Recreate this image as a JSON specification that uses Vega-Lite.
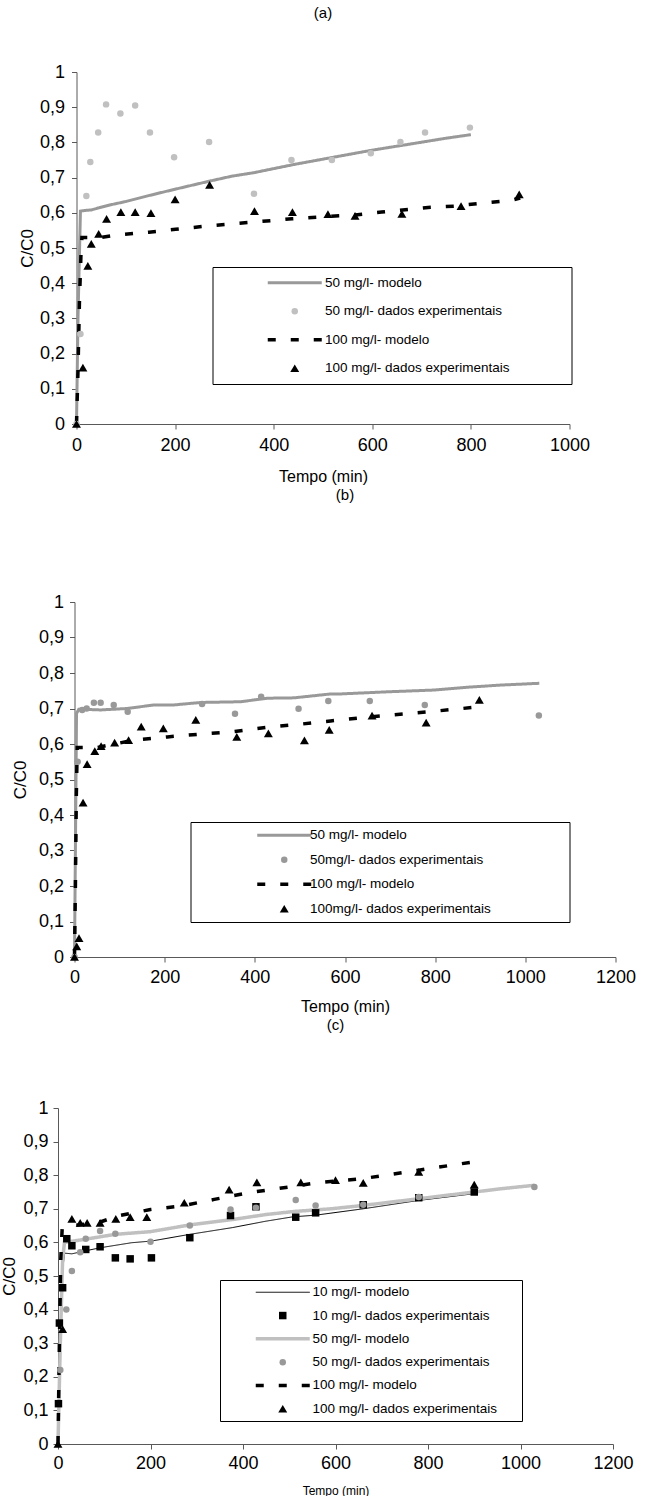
{
  "$schema": "https://vega.github.io/schema/vega-lite/v6.json",
  "background": "#ffffff",
  "padding": {"left": 0, "top": 6, "right": 0, "bottom": 0},
  "config": {
    "view": {"stroke": null},
    "font": "Liberation Sans",
    "axis": {"grid": false, "domainColor": "#595959", "tickColor": "#595959", "domainWidth": 1, "tickWidth": 1, "tickSize": 5, "labelColor": "#000000", "titleColor": "#000000", "labelFont": "Liberation Sans", "titleFont": "Liberation Sans", "titleFontWeight": "normal", "labelFlush": false, "labelOverlap": false, "labelBound": false},
    "title": {"font": "Liberation Sans", "fontWeight": "normal", "color": "#000000", "anchor": "middle"},
    "legend": {"labelFont": "Liberation Sans", "labelColor": "#000000", "labelFontSize": 13.5, "labelLimit": 600, "strokeColor": "#000000", "fillColor": "#ffffff", "orient": "none"}
  },
  "datasets": {
    "a": [
      {"series": "50 mg/l- modelo", "kind": "modelo", "t": 0, "v": 0},
      {"series": "50 mg/l- modelo", "kind": "modelo", "t": 3, "v": 0.3},
      {"series": "50 mg/l- modelo", "kind": "modelo", "t": 8, "v": 0.605},
      {"series": "50 mg/l- modelo", "kind": "modelo", "t": 20, "v": 0.607},
      {"series": "50 mg/l- modelo", "kind": "modelo", "t": 30, "v": 0.608},
      {"series": "50 mg/l- modelo", "kind": "modelo", "t": 45, "v": 0.614},
      {"series": "50 mg/l- modelo", "kind": "modelo", "t": 70, "v": 0.623},
      {"series": "50 mg/l- modelo", "kind": "modelo", "t": 100, "v": 0.632},
      {"series": "50 mg/l- modelo", "kind": "modelo", "t": 150, "v": 0.65},
      {"series": "50 mg/l- modelo", "kind": "modelo", "t": 200, "v": 0.667},
      {"series": "50 mg/l- modelo", "kind": "modelo", "t": 270, "v": 0.69},
      {"series": "50 mg/l- modelo", "kind": "modelo", "t": 315, "v": 0.704},
      {"series": "50 mg/l- modelo", "kind": "modelo", "t": 360, "v": 0.714},
      {"series": "50 mg/l- modelo", "kind": "modelo", "t": 440, "v": 0.737},
      {"series": "50 mg/l- modelo", "kind": "modelo", "t": 510, "v": 0.755},
      {"series": "50 mg/l- modelo", "kind": "modelo", "t": 600, "v": 0.778},
      {"series": "50 mg/l- modelo", "kind": "modelo", "t": 680, "v": 0.796},
      {"series": "50 mg/l- modelo", "kind": "modelo", "t": 750, "v": 0.812},
      {"series": "50 mg/l- modelo", "kind": "modelo", "t": 800, "v": 0.822},
      {"series": "50 mg/l- dados experimentais", "kind": "dados", "t": 0, "v": 0},
      {"series": "50 mg/l- dados experimentais", "kind": "dados", "t": 8, "v": 0.256},
      {"series": "50 mg/l- dados experimentais", "kind": "dados", "t": 20, "v": 0.648},
      {"series": "50 mg/l- dados experimentais", "kind": "dados", "t": 28, "v": 0.744},
      {"series": "50 mg/l- dados experimentais", "kind": "dados", "t": 44, "v": 0.828},
      {"series": "50 mg/l- dados experimentais", "kind": "dados", "t": 60, "v": 0.908},
      {"series": "50 mg/l- dados experimentais", "kind": "dados", "t": 89, "v": 0.882},
      {"series": "50 mg/l- dados experimentais", "kind": "dados", "t": 119, "v": 0.905},
      {"series": "50 mg/l- dados experimentais", "kind": "dados", "t": 149, "v": 0.828},
      {"series": "50 mg/l- dados experimentais", "kind": "dados", "t": 198, "v": 0.758},
      {"series": "50 mg/l- dados experimentais", "kind": "dados", "t": 269, "v": 0.801},
      {"series": "50 mg/l- dados experimentais", "kind": "dados", "t": 360, "v": 0.654},
      {"series": "50 mg/l- dados experimentais", "kind": "dados", "t": 436, "v": 0.75},
      {"series": "50 mg/l- dados experimentais", "kind": "dados", "t": 518, "v": 0.75},
      {"series": "50 mg/l- dados experimentais", "kind": "dados", "t": 597, "v": 0.769},
      {"series": "50 mg/l- dados experimentais", "kind": "dados", "t": 657, "v": 0.801},
      {"series": "50 mg/l- dados experimentais", "kind": "dados", "t": 707, "v": 0.828},
      {"series": "50 mg/l- dados experimentais", "kind": "dados", "t": 798, "v": 0.842},
      {"series": "100 mg/l- modelo", "kind": "modelo", "t": 0, "v": 0},
      {"series": "100 mg/l- modelo", "kind": "modelo", "t": 3, "v": 0.15},
      {"series": "100 mg/l- modelo", "kind": "modelo", "t": 6, "v": 0.35},
      {"series": "100 mg/l- modelo", "kind": "modelo", "t": 9, "v": 0.48},
      {"series": "100 mg/l- modelo", "kind": "modelo", "t": 11, "v": 0.53},
      {"series": "100 mg/l- modelo", "kind": "modelo", "t": 50, "v": 0.53},
      {"series": "100 mg/l- modelo", "kind": "modelo", "t": 80, "v": 0.537},
      {"series": "100 mg/l- modelo", "kind": "modelo", "t": 147, "v": 0.545},
      {"series": "100 mg/l- modelo", "kind": "modelo", "t": 201, "v": 0.553},
      {"series": "100 mg/l- modelo", "kind": "modelo", "t": 269, "v": 0.563},
      {"series": "100 mg/l- modelo", "kind": "modelo", "t": 363, "v": 0.574},
      {"series": "100 mg/l- modelo", "kind": "modelo", "t": 437, "v": 0.583},
      {"series": "100 mg/l- modelo", "kind": "modelo", "t": 511, "v": 0.59},
      {"series": "100 mg/l- modelo", "kind": "modelo", "t": 565, "v": 0.594},
      {"series": "100 mg/l- modelo", "kind": "modelo", "t": 619, "v": 0.602},
      {"series": "100 mg/l- modelo", "kind": "modelo", "t": 713, "v": 0.615},
      {"series": "100 mg/l- modelo", "kind": "modelo", "t": 767, "v": 0.619},
      {"series": "100 mg/l- modelo", "kind": "modelo", "t": 834, "v": 0.629},
      {"series": "100 mg/l- modelo", "kind": "modelo", "t": 881, "v": 0.635},
      {"series": "100 mg/l- modelo", "kind": "modelo", "t": 900, "v": 0.642},
      {"series": "100 mg/l- dados experimentais", "kind": "dados", "t": 0, "v": 0},
      {"series": "100 mg/l- dados experimentais", "kind": "dados", "t": 13, "v": 0.16},
      {"series": "100 mg/l- dados experimentais", "kind": "dados", "t": 23, "v": 0.449},
      {"series": "100 mg/l- dados experimentais", "kind": "dados", "t": 30, "v": 0.512},
      {"series": "100 mg/l- dados experimentais", "kind": "dados", "t": 45, "v": 0.54},
      {"series": "100 mg/l- dados experimentais", "kind": "dados", "t": 61, "v": 0.583},
      {"series": "100 mg/l- dados experimentais", "kind": "dados", "t": 90, "v": 0.602},
      {"series": "100 mg/l- dados experimentais", "kind": "dados", "t": 119, "v": 0.602},
      {"series": "100 mg/l- dados experimentais", "kind": "dados", "t": 151, "v": 0.599},
      {"series": "100 mg/l- dados experimentais", "kind": "dados", "t": 200, "v": 0.638},
      {"series": "100 mg/l- dados experimentais", "kind": "dados", "t": 270, "v": 0.679},
      {"series": "100 mg/l- dados experimentais", "kind": "dados", "t": 361, "v": 0.605},
      {"series": "100 mg/l- dados experimentais", "kind": "dados", "t": 438, "v": 0.602},
      {"series": "100 mg/l- dados experimentais", "kind": "dados", "t": 510, "v": 0.596},
      {"series": "100 mg/l- dados experimentais", "kind": "dados", "t": 565, "v": 0.591},
      {"series": "100 mg/l- dados experimentais", "kind": "dados", "t": 660, "v": 0.597},
      {"series": "100 mg/l- dados experimentais", "kind": "dados", "t": 780, "v": 0.619},
      {"series": "100 mg/l- dados experimentais", "kind": "dados", "t": 898, "v": 0.652}
    ],
    "b": [
      {"series": "50 mg/l- modelo", "kind": "modelo", "t": 0, "v": 0},
      {"series": "50 mg/l- modelo", "kind": "modelo", "t": 2, "v": 0.3},
      {"series": "50 mg/l- modelo", "kind": "modelo", "t": 4.5, "v": 0.686},
      {"series": "50 mg/l- modelo", "kind": "modelo", "t": 9.6, "v": 0.698},
      {"series": "50 mg/l- modelo", "kind": "modelo", "t": 58, "v": 0.696},
      {"series": "50 mg/l- modelo", "kind": "modelo", "t": 117, "v": 0.7},
      {"series": "50 mg/l- modelo", "kind": "modelo", "t": 176, "v": 0.71},
      {"series": "50 mg/l- modelo", "kind": "modelo", "t": 220, "v": 0.71},
      {"series": "50 mg/l- modelo", "kind": "modelo", "t": 280, "v": 0.717},
      {"series": "50 mg/l- modelo", "kind": "modelo", "t": 368, "v": 0.719},
      {"series": "50 mg/l- modelo", "kind": "modelo", "t": 428, "v": 0.729},
      {"series": "50 mg/l- modelo", "kind": "modelo", "t": 487, "v": 0.73},
      {"series": "50 mg/l- modelo", "kind": "modelo", "t": 568, "v": 0.741},
      {"series": "50 mg/l- modelo", "kind": "modelo", "t": 590, "v": 0.741},
      {"series": "50 mg/l- modelo", "kind": "modelo", "t": 694, "v": 0.747},
      {"series": "50 mg/l- modelo", "kind": "modelo", "t": 798, "v": 0.752},
      {"series": "50 mg/l- modelo", "kind": "modelo", "t": 872, "v": 0.76},
      {"series": "50 mg/l- modelo", "kind": "modelo", "t": 946, "v": 0.766},
      {"series": "50 mg/l- modelo", "kind": "modelo", "t": 1031, "v": 0.771},
      {"series": "50mg/l- dados experimentais", "kind": "dados", "t": 0, "v": 0},
      {"series": "50mg/l- dados experimentais", "kind": "dados", "t": 7, "v": 0.55},
      {"series": "50mg/l- dados experimentais", "kind": "dados", "t": 17, "v": 0.696},
      {"series": "50mg/l- dados experimentais", "kind": "dados", "t": 27, "v": 0.7},
      {"series": "50mg/l- dados experimentais", "kind": "dados", "t": 43, "v": 0.716},
      {"series": "50mg/l- dados experimentais", "kind": "dados", "t": 58, "v": 0.716},
      {"series": "50mg/l- dados experimentais", "kind": "dados", "t": 87, "v": 0.71},
      {"series": "50mg/l- dados experimentais", "kind": "dados", "t": 118, "v": 0.691},
      {"series": "50mg/l- dados experimentais", "kind": "dados", "t": 283, "v": 0.713},
      {"series": "50mg/l- dados experimentais", "kind": "dados", "t": 356, "v": 0.685},
      {"series": "50mg/l- dados experimentais", "kind": "dados", "t": 414, "v": 0.733},
      {"series": "50mg/l- dados experimentais", "kind": "dados", "t": 497, "v": 0.699},
      {"series": "50mg/l- dados experimentais", "kind": "dados", "t": 563, "v": 0.721},
      {"series": "50mg/l- dados experimentais", "kind": "dados", "t": 655, "v": 0.721},
      {"series": "50mg/l- dados experimentais", "kind": "dados", "t": 777, "v": 0.71},
      {"series": "50mg/l- dados experimentais", "kind": "dados", "t": 1030, "v": 0.68},
      {"series": "100 mg/l- modelo", "kind": "modelo", "t": 0, "v": 0},
      {"series": "100 mg/l- modelo", "kind": "modelo", "t": 2, "v": 0.2},
      {"series": "100 mg/l- modelo", "kind": "modelo", "t": 4, "v": 0.45},
      {"series": "100 mg/l- modelo", "kind": "modelo", "t": 6, "v": 0.59},
      {"series": "100 mg/l- modelo", "kind": "modelo", "t": 50, "v": 0.59},
      {"series": "100 mg/l- modelo", "kind": "modelo", "t": 89, "v": 0.6},
      {"series": "100 mg/l- modelo", "kind": "modelo", "t": 132, "v": 0.611},
      {"series": "100 mg/l- modelo", "kind": "modelo", "t": 206, "v": 0.62},
      {"series": "100 mg/l- modelo", "kind": "modelo", "t": 280, "v": 0.628},
      {"series": "100 mg/l- modelo", "kind": "modelo", "t": 354, "v": 0.635},
      {"series": "100 mg/l- modelo", "kind": "modelo", "t": 428, "v": 0.647},
      {"series": "100 mg/l- modelo", "kind": "modelo", "t": 502, "v": 0.656},
      {"series": "100 mg/l- modelo", "kind": "modelo", "t": 568, "v": 0.665},
      {"series": "100 mg/l- modelo", "kind": "modelo", "t": 660, "v": 0.677},
      {"series": "100 mg/l- modelo", "kind": "modelo", "t": 780, "v": 0.69},
      {"series": "100 mg/l- modelo", "kind": "modelo", "t": 900, "v": 0.705},
      {"series": "100mg/l- dados experimentais", "kind": "dados", "t": 0, "v": 0},
      {"series": "100mg/l- dados experimentais", "kind": "dados", "t": 5, "v": 0.03},
      {"series": "100mg/l- dados experimentais", "kind": "dados", "t": 10, "v": 0.053},
      {"series": "100mg/l- dados experimentais", "kind": "dados", "t": 19, "v": 0.435},
      {"series": "100mg/l- dados experimentais", "kind": "dados", "t": 28, "v": 0.543},
      {"series": "100mg/l- dados experimentais", "kind": "dados", "t": 45, "v": 0.58},
      {"series": "100mg/l- dados experimentais", "kind": "dados", "t": 59, "v": 0.594},
      {"series": "100mg/l- dados experimentais", "kind": "dados", "t": 89, "v": 0.604},
      {"series": "100mg/l- dados experimentais", "kind": "dados", "t": 120, "v": 0.611},
      {"series": "100mg/l- dados experimentais", "kind": "dados", "t": 148, "v": 0.649},
      {"series": "100mg/l- dados experimentais", "kind": "dados", "t": 197, "v": 0.644},
      {"series": "100mg/l- dados experimentais", "kind": "dados", "t": 269, "v": 0.668},
      {"series": "100mg/l- dados experimentais", "kind": "dados", "t": 360, "v": 0.62},
      {"series": "100mg/l- dados experimentais", "kind": "dados", "t": 430, "v": 0.63},
      {"series": "100mg/l- dados experimentais", "kind": "dados", "t": 510, "v": 0.61},
      {"series": "100mg/l- dados experimentais", "kind": "dados", "t": 565, "v": 0.64},
      {"series": "100mg/l- dados experimentais", "kind": "dados", "t": 660, "v": 0.68},
      {"series": "100mg/l- dados experimentais", "kind": "dados", "t": 780, "v": 0.66},
      {"series": "100mg/l- dados experimentais", "kind": "dados", "t": 898, "v": 0.724}
    ],
    "c": [
      {"series": "10 mg/l- modelo", "kind": "modelo", "t": 0, "v": 0},
      {"series": "10 mg/l- modelo", "kind": "modelo", "t": 4, "v": 0.3},
      {"series": "10 mg/l- modelo", "kind": "modelo", "t": 9, "v": 0.5},
      {"series": "10 mg/l- modelo", "kind": "modelo", "t": 14, "v": 0.568},
      {"series": "10 mg/l- modelo", "kind": "modelo", "t": 30, "v": 0.566},
      {"series": "10 mg/l- modelo", "kind": "modelo", "t": 60, "v": 0.575},
      {"series": "10 mg/l- modelo", "kind": "modelo", "t": 91, "v": 0.584},
      {"series": "10 mg/l- modelo", "kind": "modelo", "t": 159, "v": 0.599},
      {"series": "10 mg/l- modelo", "kind": "modelo", "t": 202, "v": 0.604},
      {"series": "10 mg/l- modelo", "kind": "modelo", "t": 285, "v": 0.624},
      {"series": "10 mg/l- modelo", "kind": "modelo", "t": 377, "v": 0.644},
      {"series": "10 mg/l- modelo", "kind": "modelo", "t": 449, "v": 0.663},
      {"series": "10 mg/l- modelo", "kind": "modelo", "t": 507, "v": 0.676},
      {"series": "10 mg/l- modelo", "kind": "modelo", "t": 557, "v": 0.681},
      {"series": "10 mg/l- modelo", "kind": "modelo", "t": 660, "v": 0.7},
      {"series": "10 mg/l- modelo", "kind": "modelo", "t": 780, "v": 0.725},
      {"series": "10 mg/l- modelo", "kind": "modelo", "t": 900, "v": 0.745},
      {"series": "10 mg/l- dados experimentais", "kind": "dados", "t": 1, "v": 0.12},
      {"series": "10 mg/l- dados experimentais", "kind": "dados", "t": 3, "v": 0.36},
      {"series": "10 mg/l- dados experimentais", "kind": "dados", "t": 10, "v": 0.465},
      {"series": "10 mg/l- dados experimentais", "kind": "dados", "t": 19, "v": 0.611},
      {"series": "10 mg/l- dados experimentais", "kind": "dados", "t": 30, "v": 0.59},
      {"series": "10 mg/l- dados experimentais", "kind": "dados", "t": 60, "v": 0.579},
      {"series": "10 mg/l- dados experimentais", "kind": "dados", "t": 91, "v": 0.587},
      {"series": "10 mg/l- dados experimentais", "kind": "dados", "t": 124, "v": 0.554},
      {"series": "10 mg/l- dados experimentais", "kind": "dados", "t": 156, "v": 0.551},
      {"series": "10 mg/l- dados experimentais", "kind": "dados", "t": 202, "v": 0.554},
      {"series": "10 mg/l- dados experimentais", "kind": "dados", "t": 285, "v": 0.614},
      {"series": "10 mg/l- dados experimentais", "kind": "dados", "t": 373, "v": 0.68},
      {"series": "10 mg/l- dados experimentais", "kind": "dados", "t": 428, "v": 0.706},
      {"series": "10 mg/l- dados experimentais", "kind": "dados", "t": 514, "v": 0.675},
      {"series": "10 mg/l- dados experimentais", "kind": "dados", "t": 557, "v": 0.688},
      {"series": "10 mg/l- dados experimentais", "kind": "dados", "t": 660, "v": 0.712},
      {"series": "10 mg/l- dados experimentais", "kind": "dados", "t": 780, "v": 0.733},
      {"series": "10 mg/l- dados experimentais", "kind": "dados", "t": 900, "v": 0.75},
      {"series": "50 mg/l- modelo", "kind": "modelo", "t": 0, "v": 0},
      {"series": "50 mg/l- modelo", "kind": "modelo", "t": 5, "v": 0.3},
      {"series": "50 mg/l- modelo", "kind": "modelo", "t": 10, "v": 0.55},
      {"series": "50 mg/l- modelo", "kind": "modelo", "t": 14, "v": 0.6},
      {"series": "50 mg/l- modelo", "kind": "modelo", "t": 57, "v": 0.609},
      {"series": "50 mg/l- modelo", "kind": "modelo", "t": 124, "v": 0.624},
      {"series": "50 mg/l- modelo", "kind": "modelo", "t": 200, "v": 0.632},
      {"series": "50 mg/l- modelo", "kind": "modelo", "t": 285, "v": 0.652},
      {"series": "50 mg/l- modelo", "kind": "modelo", "t": 377, "v": 0.668},
      {"series": "50 mg/l- modelo", "kind": "modelo", "t": 450, "v": 0.683},
      {"series": "50 mg/l- modelo", "kind": "modelo", "t": 510, "v": 0.692},
      {"series": "50 mg/l- modelo", "kind": "modelo", "t": 590, "v": 0.7},
      {"series": "50 mg/l- modelo", "kind": "modelo", "t": 660, "v": 0.71},
      {"series": "50 mg/l- modelo", "kind": "modelo", "t": 780, "v": 0.73},
      {"series": "50 mg/l- modelo", "kind": "modelo", "t": 900, "v": 0.75},
      {"series": "50 mg/l- modelo", "kind": "modelo", "t": 960, "v": 0.76},
      {"series": "50 mg/l- modelo", "kind": "modelo", "t": 1030, "v": 0.77},
      {"series": "50 mg/l- dados experimentais", "kind": "dados", "t": 5, "v": 0.22},
      {"series": "50 mg/l- dados experimentais", "kind": "dados", "t": 18, "v": 0.4},
      {"series": "50 mg/l- dados experimentais", "kind": "dados", "t": 30, "v": 0.515},
      {"series": "50 mg/l- dados experimentais", "kind": "dados", "t": 48, "v": 0.571},
      {"series": "50 mg/l- dados experimentais", "kind": "dados", "t": 60, "v": 0.611},
      {"series": "50 mg/l- dados experimentais", "kind": "dados", "t": 91, "v": 0.634},
      {"series": "50 mg/l- dados experimentais", "kind": "dados", "t": 124, "v": 0.626},
      {"series": "50 mg/l- dados experimentais", "kind": "dados", "t": 200, "v": 0.602},
      {"series": "50 mg/l- dados experimentais", "kind": "dados", "t": 285, "v": 0.65},
      {"series": "50 mg/l- dados experimentais", "kind": "dados", "t": 373, "v": 0.698},
      {"series": "50 mg/l- dados experimentais", "kind": "dados", "t": 428, "v": 0.703},
      {"series": "50 mg/l- dados experimentais", "kind": "dados", "t": 514, "v": 0.726},
      {"series": "50 mg/l- dados experimentais", "kind": "dados", "t": 557, "v": 0.71},
      {"series": "50 mg/l- dados experimentais", "kind": "dados", "t": 660, "v": 0.712},
      {"series": "50 mg/l- dados experimentais", "kind": "dados", "t": 780, "v": 0.735},
      {"series": "50 mg/l- dados experimentais", "kind": "dados", "t": 1030, "v": 0.765},
      {"series": "100 mg/l- modelo", "kind": "modelo", "t": 0, "v": 0},
      {"series": "100 mg/l- modelo", "kind": "modelo", "t": 3, "v": 0.3},
      {"series": "100 mg/l- modelo", "kind": "modelo", "t": 6, "v": 0.55},
      {"series": "100 mg/l- modelo", "kind": "modelo", "t": 9, "v": 0.64},
      {"series": "100 mg/l- modelo", "kind": "modelo", "t": 20, "v": 0.648},
      {"series": "100 mg/l- modelo", "kind": "modelo", "t": 50, "v": 0.653},
      {"series": "100 mg/l- modelo", "kind": "modelo", "t": 90, "v": 0.66},
      {"series": "100 mg/l- modelo", "kind": "modelo", "t": 127, "v": 0.678},
      {"series": "100 mg/l- modelo", "kind": "modelo", "t": 200, "v": 0.698},
      {"series": "100 mg/l- modelo", "kind": "modelo", "t": 266, "v": 0.708},
      {"series": "100 mg/l- modelo", "kind": "modelo", "t": 338, "v": 0.728},
      {"series": "100 mg/l- modelo", "kind": "modelo", "t": 413, "v": 0.748},
      {"series": "100 mg/l- modelo", "kind": "modelo", "t": 510, "v": 0.767},
      {"series": "100 mg/l- modelo", "kind": "modelo", "t": 557, "v": 0.777},
      {"series": "100 mg/l- modelo", "kind": "modelo", "t": 660, "v": 0.79},
      {"series": "100 mg/l- modelo", "kind": "modelo", "t": 780, "v": 0.815},
      {"series": "100 mg/l- modelo", "kind": "modelo", "t": 900, "v": 0.84},
      {"series": "100 mg/l- dados experimentais", "kind": "dados", "t": 0, "v": 0},
      {"series": "100 mg/l- dados experimentais", "kind": "dados", "t": 10, "v": 0.342},
      {"series": "100 mg/l- dados experimentais", "kind": "dados", "t": 30, "v": 0.67},
      {"series": "100 mg/l- dados experimentais", "kind": "dados", "t": 48, "v": 0.658},
      {"series": "100 mg/l- dados experimentais", "kind": "dados", "t": 63, "v": 0.658},
      {"series": "100 mg/l- dados experimentais", "kind": "dados", "t": 91, "v": 0.658},
      {"series": "100 mg/l- dados experimentais", "kind": "dados", "t": 125, "v": 0.67},
      {"series": "100 mg/l- dados experimentais", "kind": "dados", "t": 156, "v": 0.675},
      {"series": "100 mg/l- dados experimentais", "kind": "dados", "t": 192, "v": 0.675},
      {"series": "100 mg/l- dados experimentais", "kind": "dados", "t": 273, "v": 0.718},
      {"series": "100 mg/l- dados experimentais", "kind": "dados", "t": 370, "v": 0.757},
      {"series": "100 mg/l- dados experimentais", "kind": "dados", "t": 430, "v": 0.779},
      {"series": "100 mg/l- dados experimentais", "kind": "dados", "t": 525, "v": 0.779},
      {"series": "100 mg/l- dados experimentais", "kind": "dados", "t": 600, "v": 0.785},
      {"series": "100 mg/l- dados experimentais", "kind": "dados", "t": 660, "v": 0.777},
      {"series": "100 mg/l- dados experimentais", "kind": "dados", "t": 780, "v": 0.81},
      {"series": "100 mg/l- dados experimentais", "kind": "dados", "t": 900, "v": 0.772}
    ],
    "empty": []
  },
  "columns": 1,
  "align": "none",
  "spacing": 4,
  "resolve": {
    "scale": {"stroke": "independent", "fill": "independent", "shape": "independent", "size": "independent", "strokeWidth": "independent", "strokeDash": "independent"},
    "legend": {"stroke": "independent", "fill": "independent", "shape": "independent", "size": "independent", "strokeWidth": "independent", "strokeDash": "independent"}
  },
  "concat": [
    {
      "spacing": -40.5,
      "resolve": {
        "scale": {"stroke": "independent", "fill": "independent", "shape": "independent", "size": "independent", "strokeWidth": "independent", "strokeDash": "independent"},
        "legend": {"stroke": "independent", "fill": "independent", "shape": "independent", "size": "independent", "strokeWidth": "independent", "strokeDash": "independent"}
      },
      "hconcat": [
        {"width": 1, "height": 1, "data": {"name": "empty"}, "mark": "point"},
        {
          "title": {"text": "(a)", "fontSize": 15, "offset": 42},
          "width": 493,
          "height": 352,
          "data": {"name": "a"},
          "encoding": {
            "x": {"field": "t", "type": "quantitative", "scale": {"domain": [0, 1000], "nice": false},
              "axis": {"values": [0, 200, 400, 600, 800, 1000], "format": "d", "title": "Tempo (min)", "labelFontSize": 18, "labelPadding": 7, "titleFontSize": 16, "titlePadding": 14}},
            "y": {"field": "v", "type": "quantitative", "scale": {"domain": [0, 1], "nice": false},
              "axis": {"values": [0, 0.1, 0.2, 0.3, 0.4, 0.5, 0.6, 0.7, 0.8, 0.9, 1], "labelExpr": "replace(format(datum.value, '.1~f'), '.', ',')", "title": "C/C0", "labelFontSize": 18, "labelPadding": 7, "titleFontSize": 17, "titlePadding": 2.5}}
          },
          "layer": [
            {"transform": [{"filter": "datum.kind == 'modelo'"}],
             "mark": {"type": "line", "strokeCap": "butt", "opacity": 1},
             "encoding": {
               "stroke": {"field": "series", "type": "nominal",
                 "scale": {"type": "ordinal", "domain": ["50 mg/l- modelo", "50 mg/l- dados experimentais", "100 mg/l- modelo", "100 mg/l- dados experimentais"], "range": ["#999999", "transparent", "#000000", "transparent"]},
                 "legend": {"title": null, "legendX": 136, "legendY": 195, "padding": 9, "symbolOffset": 66.5, "labelOffset": 23.5, "rowPadding": 13.5, "labelExpr": "datum.label + '              \u200B'"}},
               "strokeWidth": {"field": "series", "type": "nominal",
                 "scale": {"type": "ordinal", "domain": ["50 mg/l- modelo", "50 mg/l- dados experimentais", "100 mg/l- modelo", "100 mg/l- dados experimentais"], "range": [3, 0, 3.5, 0]},
                 "legend": {"title": null, "legendX": 136, "legendY": 195, "padding": 9, "symbolOffset": 66.5, "labelOffset": 23.5, "rowPadding": 13.5, "labelExpr": "datum.label + '              \u200B'"}},
               "strokeDash": {"field": "series", "type": "nominal",
                 "scale": {"type": "ordinal", "domain": ["50 mg/l- modelo", "50 mg/l- dados experimentais", "100 mg/l- modelo", "100 mg/l- dados experimentais"], "range": [[1, 0], [1, 0], [8, 15], [1, 0]]},
                 "legend": {"title": null, "legendX": 136, "legendY": 195, "padding": 9, "symbolOffset": 66.5, "labelOffset": 23.5, "rowPadding": 13.5, "labelExpr": "datum.label + '              \u200B'"}}
             }},
            {"transform": [{"filter": "datum.kind == 'dados'"}],
             "mark": {"type": "point", "filled": true, "opacity": 1},
             "encoding": {
               "fill": {"field": "series", "type": "nominal",
                 "scale": {"type": "ordinal", "domain": ["50 mg/l- modelo", "50 mg/l- dados experimentais", "100 mg/l- modelo", "100 mg/l- dados experimentais"], "range": ["transparent", "#c0c0c0", "transparent", "#000000"]},
                 "legend": {"title": null, "legendX": 136, "legendY": 195, "padding": 9, "symbolOffset": 66.5, "labelOffset": 23.5, "rowPadding": 13.5, "labelExpr": "datum.label + '              \u200B'"}},
               "shape": {"field": "series", "type": "nominal",
                 "scale": {"type": "ordinal", "domain": ["50 mg/l- modelo", "50 mg/l- dados experimentais", "100 mg/l- modelo", "100 mg/l- dados experimentais"], "range": ["M-9,0H9", "circle", "M-9,0H9", "triangle-up"]},
                 "legend": {"title": null, "legendX": 136, "legendY": 195, "padding": 9, "symbolOffset": 66.5, "labelOffset": 23.5, "rowPadding": 13.5, "labelExpr": "datum.label + '              \u200B'"}},
               "size": {"field": "series", "type": "nominal",
                 "scale": {"type": "ordinal", "domain": ["50 mg/l- modelo", "50 mg/l- dados experimentais", "100 mg/l- modelo", "100 mg/l- dados experimentais"], "range": [36, 42, 36, 80]},
                 "legend": {"title": null, "legendX": 136, "legendY": 195, "padding": 9, "symbolOffset": 66.5, "labelOffset": 23.5, "rowPadding": 13.5, "labelExpr": "datum.label + '              \u200B'"}}
             }}
          ]
        }
      ]
    },
    {
      "spacing": -47.5,
      "resolve": {
        "scale": {"stroke": "independent", "fill": "independent", "shape": "independent", "size": "independent", "strokeWidth": "independent", "strokeDash": "independent"},
        "legend": {"stroke": "independent", "fill": "independent", "shape": "independent", "size": "independent", "strokeWidth": "independent", "strokeDash": "independent"}
      },
      "hconcat": [
        {"width": 1, "height": 1, "data": {"name": "empty"}, "mark": "point"},
        {
          "title": {"text": "(b)", "fontSize": 15, "offset": 90},
          "width": 541,
          "height": 355,
          "data": {"name": "b"},
          "encoding": {
            "x": {"field": "t", "type": "quantitative", "scale": {"domain": [0, 1200], "nice": false},
              "axis": {"values": [0, 200, 400, 600, 800, 1000, 1200], "format": "d", "title": "Tempo (min)", "labelFontSize": 18, "labelPadding": 6, "titleFontSize": 16, "titlePadding": 12}},
            "y": {"field": "v", "type": "quantitative", "scale": {"domain": [0, 1], "nice": false},
              "axis": {"values": [0, 0.1, 0.2, 0.3, 0.4, 0.5, 0.6, 0.7, 0.8, 0.9, 1], "labelExpr": "replace(format(datum.value, '.1~f'), '.', ',')", "title": "C/C0", "labelFontSize": 18, "labelPadding": 6, "titleFontSize": 17, "titlePadding": 8.5}}
          },
          "layer": [
            {"transform": [{"filter": "datum.kind == 'modelo'"}],
             "mark": {"type": "line", "strokeCap": "butt", "opacity": 1},
             "encoding": {
               "stroke": {"field": "series", "type": "nominal",
                 "scale": {"type": "ordinal", "domain": ["50 mg/l- modelo", "50mg/l- dados experimentais", "100 mg/l- modelo", "100mg/l- dados experimentais"], "range": ["#999999", "transparent", "#000000", "transparent"]},
                 "legend": {"title": null, "legendX": 116, "legendY": 220, "padding": 6.5, "symbolOffset": 80.5, "labelOffset": 19, "rowPadding": 9.5, "labelExpr": "datum.label + '                   \u200B'"}},
               "strokeWidth": {"field": "series", "type": "nominal",
                 "scale": {"type": "ordinal", "domain": ["50 mg/l- modelo", "50mg/l- dados experimentais", "100 mg/l- modelo", "100mg/l- dados experimentais"], "range": [3, 0, 3.5, 0]},
                 "legend": {"title": null, "legendX": 116, "legendY": 220, "padding": 6.5, "symbolOffset": 80.5, "labelOffset": 19, "rowPadding": 9.5, "labelExpr": "datum.label + '                   \u200B'"}},
               "strokeDash": {"field": "series", "type": "nominal",
                 "scale": {"type": "ordinal", "domain": ["50 mg/l- modelo", "50mg/l- dados experimentais", "100 mg/l- modelo", "100mg/l- dados experimentais"], "range": [[1, 0], [1, 0], [8, 15], [1, 0]]},
                 "legend": {"title": null, "legendX": 116, "legendY": 220, "padding": 6.5, "symbolOffset": 80.5, "labelOffset": 19, "rowPadding": 9.5, "labelExpr": "datum.label + '                   \u200B'"}}
             }},
            {"transform": [{"filter": "datum.kind == 'dados'"}],
             "mark": {"type": "point", "filled": true, "opacity": 1},
             "encoding": {
               "fill": {"field": "series", "type": "nominal",
                 "scale": {"type": "ordinal", "domain": ["50 mg/l- modelo", "50mg/l- dados experimentais", "100 mg/l- modelo", "100mg/l- dados experimentais"], "range": ["transparent", "#999999", "transparent", "#000000"]},
                 "legend": {"title": null, "legendX": 116, "legendY": 220, "padding": 6.5, "symbolOffset": 80.5, "labelOffset": 19, "rowPadding": 9.5, "labelExpr": "datum.label + '                   \u200B'"}},
               "shape": {"field": "series", "type": "nominal",
                 "scale": {"type": "ordinal", "domain": ["50 mg/l- modelo", "50mg/l- dados experimentais", "100 mg/l- modelo", "100mg/l- dados experimentais"], "range": ["M-9,0H9", "circle", "M-9,0H9", "triangle-up"]},
                 "legend": {"title": null, "legendX": 116, "legendY": 220, "padding": 6.5, "symbolOffset": 80.5, "labelOffset": 19, "rowPadding": 9.5, "labelExpr": "datum.label + '                   \u200B'"}},
               "size": {"field": "series", "type": "nominal",
                 "scale": {"type": "ordinal", "domain": ["50 mg/l- modelo", "50mg/l- dados experimentais", "100 mg/l- modelo", "100mg/l- dados experimentais"], "range": [36, 42, 36, 80]},
                 "legend": {"title": null, "legendX": 116, "legendY": 220, "padding": 6.5, "symbolOffset": 80.5, "labelOffset": 19, "rowPadding": 9.5, "labelExpr": "datum.label + '                   \u200B'"}}
             }}
          ]
        }
      ]
    },
    {
      "title": {"text": "(c)", "fontSize": 15, "offset": 66},
      "width": 555,
      "height": 336,
      "data": {"name": "c"},
      "encoding": {
        "x": {"field": "t", "type": "quantitative", "scale": {"domain": [0, 1200], "nice": false},
          "axis": {"values": [0, 200, 400, 600, 800, 1000, 1200], "format": "d", "title": "Tempo (min)", "labelFontSize": 18, "labelPadding": 5, "titleFontSize": 12, "titlePadding": 13}},
        "y": {"field": "v", "type": "quantitative", "scale": {"domain": [0, 1], "nice": false},
          "axis": {"values": [0, 0.1, 0.2, 0.3, 0.4, 0.5, 0.6, 0.7, 0.8, 0.9, 1], "labelExpr": "replace(format(datum.value, '.1~f'), '.', ',')", "title": "C/C0", "labelFontSize": 18, "labelPadding": 5, "titleFontSize": 17, "titlePadding": 4}}
      },
      "layer": [
        {"transform": [{"filter": "datum.kind == 'modelo'"}],
         "mark": {"type": "line", "strokeCap": "butt", "opacity": 1},
         "encoding": {
           "stroke": {"field": "series", "type": "nominal",
             "scale": {"type": "ordinal", "domain": ["10 mg/l- modelo", "10 mg/l- dados experimentais", "50 mg/l- modelo", "50 mg/l- dados experimentais", "100 mg/l- modelo", "100 mg/l- dados experimentais"], "range": ["#000000", "transparent", "#c0c0c0", "transparent", "#000000", "transparent"]},
             "legend": {"title": null, "legendX": 162, "legendY": 172, "padding": 5.5, "symbolOffset": 50.5, "labelOffset": 23, "rowPadding": 8.3, "labelExpr": "datum.label + '     \u200B'"}},
           "strokeWidth": {"field": "series", "type": "nominal",
             "scale": {"type": "ordinal", "domain": ["10 mg/l- modelo", "10 mg/l- dados experimentais", "50 mg/l- modelo", "50 mg/l- dados experimentais", "100 mg/l- modelo", "100 mg/l- dados experimentais"], "range": [1, 0, 3.5, 0, 3.5, 0]},
             "legend": {"title": null, "legendX": 162, "legendY": 172, "padding": 5.5, "symbolOffset": 50.5, "labelOffset": 23, "rowPadding": 8.3, "labelExpr": "datum.label + '     \u200B'"}},
           "strokeDash": {"field": "series", "type": "nominal",
             "scale": {"type": "ordinal", "domain": ["10 mg/l- modelo", "10 mg/l- dados experimentais", "50 mg/l- modelo", "50 mg/l- dados experimentais", "100 mg/l- modelo", "100 mg/l- dados experimentais"], "range": [[1, 0], [1, 0], [1, 0], [1, 0], [8, 15], [1, 0]]},
             "legend": {"title": null, "legendX": 162, "legendY": 172, "padding": 5.5, "symbolOffset": 50.5, "labelOffset": 23, "rowPadding": 8.3, "labelExpr": "datum.label + '     \u200B'"}}
         }},
        {"transform": [{"filter": "datum.kind == 'dados'"}],
         "mark": {"type": "point", "filled": true, "opacity": 1},
         "encoding": {
           "fill": {"field": "series", "type": "nominal",
             "scale": {"type": "ordinal", "domain": ["10 mg/l- modelo", "10 mg/l- dados experimentais", "50 mg/l- modelo", "50 mg/l- dados experimentais", "100 mg/l- modelo", "100 mg/l- dados experimentais"], "range": ["transparent", "#000000", "transparent", "#999999", "transparent", "#000000"]},
             "legend": {"title": null, "legendX": 162, "legendY": 172, "padding": 5.5, "symbolOffset": 50.5, "labelOffset": 23, "rowPadding": 8.3, "labelExpr": "datum.label + '     \u200B'"}},
           "shape": {"field": "series", "type": "nominal",
             "scale": {"type": "ordinal", "domain": ["10 mg/l- modelo", "10 mg/l- dados experimentais", "50 mg/l- modelo", "50 mg/l- dados experimentais", "100 mg/l- modelo", "100 mg/l- dados experimentais"], "range": ["M-9,0H9", "square", "M-9,0H9", "circle", "M-9,0H9", "triangle-up"]},
             "legend": {"title": null, "legendX": 162, "legendY": 172, "padding": 5.5, "symbolOffset": 50.5, "labelOffset": 23, "rowPadding": 8.3, "labelExpr": "datum.label + '     \u200B'"}},
           "size": {"field": "series", "type": "nominal",
             "scale": {"type": "ordinal", "domain": ["10 mg/l- modelo", "10 mg/l- dados experimentais", "50 mg/l- modelo", "50 mg/l- dados experimentais", "100 mg/l- modelo", "100 mg/l- dados experimentais"], "range": [36, 56, 36, 42, 36, 80]},
             "legend": {"title": null, "legendX": 162, "legendY": 172, "padding": 5.5, "symbolOffset": 50.5, "labelOffset": 23, "rowPadding": 8.3, "labelExpr": "datum.label + '     \u200B'"}}
         }}
      ]
    }
  ]
}
